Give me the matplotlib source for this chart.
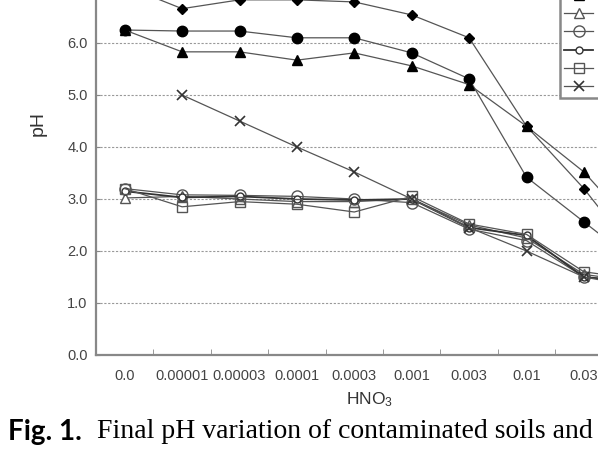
import matplotlib
matplotlib.use("Agg")
import numpy as np
import matplotlib.pyplot as plt
from matplotlib.ticker import FixedLocator

plt.rcParams['font.family'] = ['Liberation Sans', 'DejaVu Sans']
plt.rcParams['mathtext.fontset'] = 'custom'
plt.rcParams['mathtext.rm'] = 'Liberation Sans'
plt.rcParams['mathtext.it'] = 'Liberation Sans'

# HNO3 concentrations (last one is off the cropped frame)
conc = ['0.0', '0.00001', '0.00003', '0.0001', '0.0003', '0.001', '0.003', '0.01', '0.03', '0.1']

ph_diamond = [7.10, 6.66, 6.83, 6.83, 6.79, 6.54, 6.10, 4.40, 3.20, 1.80]
ph_circle = [6.25, 6.23, 6.23, 6.10, 6.10, 5.81, 5.31, 3.42, 2.56, 1.70]
ph_triangle = [6.25, 5.83, 5.83, 5.67, 5.81, 5.56, 5.20, 4.40, 3.52, 2.30]
ph_open_tri = [3.02, 3.05, 3.00, 2.95, 2.95, 3.00, 2.50, 2.25, 1.55, 1.40]
ph_open_circ = [3.20, 3.08, 3.07, 3.05, 3.00, 2.93, 2.42, 2.20, 1.50, 1.40]
ph_small_circ = [3.15, 3.03, 3.05, 3.00, 2.98, 3.00, 2.45, 2.30, 1.50, 1.40]
ph_open_sq = [3.20, 2.85, 2.95, 2.90, 2.75, 3.05, 2.52, 2.32, 1.60, 1.45]
ph_cross = [np.nan, 5.00, 4.50, 4.00, 3.52, 3.00, 2.45, 2.00, 1.50, 1.30]

labels = ['Soil A', 'Soil B', 'Soil C', 'Tailing A', 'Tailing B', 'Tailing C', 'Tailing D', 'Tailing E']
yticks = [0.0, 1.0, 2.0, 3.0, 4.0, 5.0, 6.0]

x = np.arange(len(conc))

fig = plt.figure(figsize=(5.98, 4.70), dpi=100)
ax = fig.add_axes([96 / 598, 1 - 355 / 470, 574 / 598, 416 / 470])

lc = '#555555'
lw = 0.9
ax.plot(x, ph_diamond, '-', color=lc, lw=lw, marker='D', ms=5, mfc='black', mec='black', label=labels[0])
ax.plot(x, ph_circle, '-', color=lc, lw=lw, marker='o', ms=7.5, mfc='black', mec='black', label=labels[1])
ax.plot(x, ph_triangle, '-', color=lc, lw=lw, marker='^', ms=7, mfc='black', mec='black', label=labels[2])
ax.plot(x, ph_open_tri, '-', color=lc, lw=lw, marker='^', ms=7, mfc='white', mec='#555555', mew=1, label=labels[3])
ax.plot(x, ph_open_circ, '-', color=lc, lw=lw, marker='o', ms=8, mfc='none', mec='#555555', mew=1, label=labels[4])
ax.plot(x, ph_small_circ, '-', color='#333333', lw=1.3, marker='o', ms=5, mfc='white', mec='#333333', mew=1, label=labels[5])
ax.plot(x, ph_open_sq, '-', color=lc, lw=lw, marker='s', ms=7, mfc='none', mec='#555555', mew=1, label=labels[6])
ax.plot(x, ph_cross, '-', color=lc, lw=lw, marker='x', ms=7, mec='#333333', mew=1.2, label=labels[7])

ax.set_xlim(-0.5, len(conc) - 0.5)
ax.set_ylim(0, 8)

ax.set_yticks(yticks)
ax.set_yticklabels([f'{v:.1f}' for v in yticks])
ax.set_xticks(x)
ax.set_xticklabels(conc)
ax.xaxis.set_minor_locator(FixedLocator(np.arange(0.5, len(conc) - 0.5, 1)))
ax.tick_params(axis='x', which='major', length=0, pad=10, labelsize=10.5, colors='#444444')
ax.tick_params(axis='x', which='minor', direction='in', length=4, color='#888888')
ax.tick_params(axis='y', direction='in', length=3, labelsize=10.5, colors='#888888',
               labelcolor='#444444', pad=6)

for y in range(1, 9):
    ax.axhline(y, color='#999999', lw=0.8, ls=(0, (2, 1.5)), zorder=0)

for s in ['top', 'right']:
    ax.spines[s].set_visible(False)
for s in ['left', 'bottom']:
    ax.spines[s].set_color('#888888')
    ax.spines[s].set_linewidth(1.6)

leg = ax.legend(loc='lower left', bbox_to_anchor=(560 / 598, 1 - 98 / 470),
                bbox_transform=fig.transFigure, borderaxespad=0, borderpad=0.3,
                handlelength=2.1, handletextpad=0.8, labelspacing=0.3, fontsize=10,
                fancybox=False, framealpha=1)
leg.get_frame().set_edgecolor('#888888')
leg.get_frame().set_linewidth(1.8)

fig.text(38 / 598, 1 - 123 / 470, 'pH', rotation=90, ha='center', va='center',
         fontsize=14, color='#333333')
fig.text(370 / 598, 1 - 400 / 470, 'HNO$_3$', ha='center', va='center',
         fontsize=12.5, color='#333333')

fig.text(8 / 598, 1 - 432 / 470, 'Fig. 1.', ha='left', va='center',
         fontsize=20, fontweight='bold', family=['Lato', 'DejaVu Sans'], color='black')
fig.text(97 / 598, 1 - 432 / 470, 'Final pH variation of contaminated soils and the',
         ha='left', va='center', fontsize=20, family=['Liberation Serif', 'DejaVu Serif'],
         color='black')

fig.savefig('out.png', dpi=100)
